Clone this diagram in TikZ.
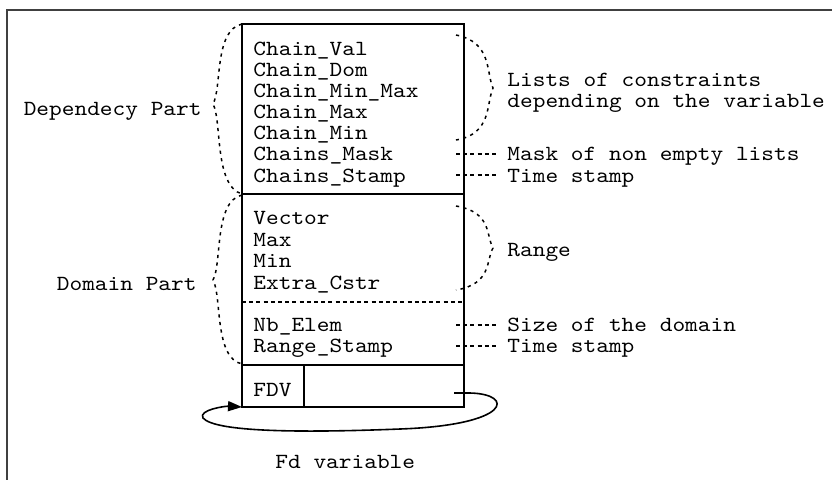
\documentclass[tikz,border=0pt]{standalone}
\usepackage{fontspec}
\newfontfamily\cour{Latin Modern Mono}[FakeStretch=1.12]
\usetikzlibrary{arrows.meta}
\begin{document}
\begin{tikzpicture}[x=0.5pt,y=-0.5pt,
  txt/.style={inner sep=0pt,anchor=base west,font=\cour\fontsize{10.8}{11}\selectfont},
  rtxt/.style={inner sep=0pt,anchor=base east,font=\cour\fontsize{10.8}{11}\selectfont},
  boxline/.style={line width=0.9pt},
  frameline/.style={line width=0.7pt,draw=black!75},
  brace/.style={line width=0.75pt,dash pattern=on 1.6pt off 2.2pt},
  lead/.style={line width=0.75pt,dash pattern=on 2pt off 1.6pt},
  loop/.style={line width=0.8pt}]
\useasboundingbox (0,0) rectangle (832,479);
% outer frame (only top and left visible)
\coordinate (fTL) at (7,10);
\coordinate (fTR) at (834,10);
\coordinate (fBL) at (7,481);
\draw[frameline] (fTR) -- (fTL) -- (fBL);
% main box
\coordinate (bTL) at (242,24);
\coordinate (bTR) at (464,24);
\coordinate (bM1L) at (242,194);
\coordinate (bM1R) at (464,194);
\coordinate (bM2L) at (242,365);
\coordinate (bM2R) at (464,365);
\coordinate (bBL) at (242,407);
\coordinate (bBR) at (464,407);
\coordinate (fdvT) at (304,365);
\coordinate (fdvB) at (304,407);
\draw[boxline] (bTL) rectangle (bBR);
\draw[boxline] (bM1L) -- (bM1R);
\draw[boxline] (bM2L) -- (bM2R);
\draw[boxline] (fdvT) -- (fdvB);
\coordinate (dL) at (242,302);
\coordinate (dR) at (464,302);
\draw[lead] (dL) -- (dR);
% field texts
\node[txt] (cval) at (253,55) {Chain\_Val};
\node[txt] (cdom) at (253,76) {Chain\_Dom};
\node[txt] (cmm) at (253,97) {Chain\_Min\_Max};
\node[txt] (cmax) at (253,118) {Chain\_Max};
\node[txt] (cmin) at (253,139) {Chain\_Min};
\node[txt] (cmask) at (253,160) {Chains\_Mask};
\node[txt] (cstamp) at (253,182) {Chains\_Stamp};
\node[txt] (vec) at (253,224) {Vector};
\node[txt] (dmax) at (253,246) {Max};
\node[txt] (dmin) at (253,267) {Min};
\node[txt] (extra) at (253,289) {Extra\_Cstr};
\node[txt] (nb) at (253,331) {Nb\_Elem};
\node[txt] (rstamp) at (253,352) {Range\_Stamp};
\node[txt] (fdv) at (253,396) {FDV};
% right labels
\node[txt] (lists1) at (507,86) {Lists of constraints};
\node[txt] (lists2) at (507,107) {depending on the variable};
\node[txt] (maskl) at (507,160) {Mask of non empty lists};
\node[txt] (ts1) at (507,182) {Time stamp};
\node[txt] (range) at (507,256) {Range};
\node[txt] (size) at (507,331) {Size of the domain};
\node[txt] (ts2) at (507,352) {Time stamp};
% left labels
\node[rtxt] (dep) at (202,115) {Dependecy Part};
\node[rtxt] (dom) at (197,290) {Domain Part};
\node[txt] (fdvar) at (275,468) {Fd variable};
% leaders
\coordinate (l1a) at (456,154); \coordinate (l1b) at (496,154);
\coordinate (l2a) at (456,175); \coordinate (l2b) at (496,175);
\coordinate (l3a) at (456,325); \coordinate (l3b) at (496,325);
\coordinate (l4a) at (456,346); \coordinate (l4b) at (496,346);
\draw[lead] (l1a) -- (l1b);
\draw[lead] (l2a) -- (l2b);
\draw[lead] (l3a) -- (l3b);
\draw[lead] (l4a) -- (l4b);
% right braces
\coordinate (rb1a) at (456,35); \coordinate (rb1t) at (493,88); \coordinate (rb1b) at (456,140);
\draw[brace] (rb1a) .. controls (492,42) and (486,72) .. (rb1t) .. controls (486,104) and (492,134) .. (rb1b);
\coordinate (rb2a) at (456,206); \coordinate (rb2t) at (493,248); \coordinate (rb2b) at (456,290);
\draw[brace] (rb2a) .. controls (492,212) and (486,236) .. (rb2t) .. controls (486,260) and (492,284) .. (rb2b);
% left braces
\coordinate (lb1t) at (213,104);
\draw[brace] (bTL) .. controls (214,30) and (222,88) .. (lb1t) .. controls (222,120) and (214,186) .. (bM1L);
\coordinate (lb2a) at (242,195); \coordinate (lb2t) at (213,280); \coordinate (lb2b) at (242,364);
\draw[brace] (lb2a) .. controls (214,201) and (222,264) .. (lb2t) .. controls (222,296) and (214,358) .. (lb2b);
% FDV loop
\coordinate (lp0) at (454,393);
\draw[loop,-{Triangle[length=7pt,width=5pt]}] (lp0) -- (470,393) .. controls (515,394) and (512,425) .. (400,429) .. controls (300,433) and (215,432) .. (203,418) .. controls (198,410) and (225,406) .. (bBL);
\end{tikzpicture}
\end{document}
